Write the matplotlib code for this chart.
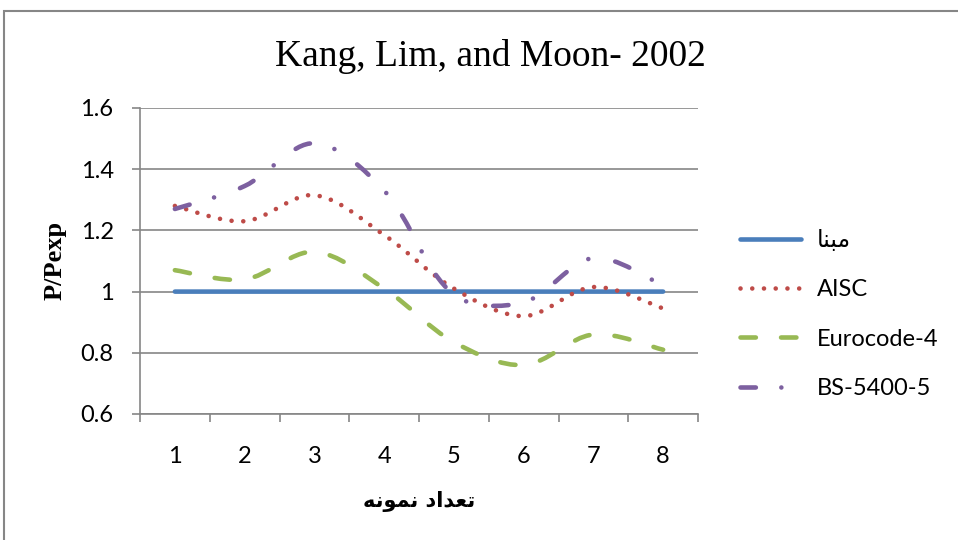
import matplotlib
matplotlib.use('Agg')
import matplotlib.pyplot as plt
from matplotlib.path import Path
from matplotlib.patches import PathPatch, Rectangle
from matplotlib.lines import Line2D
import numpy as np

# data
samples = [1, 2, 3, 4, 5, 6, 7, 8]
mabna = [1.0, 1.0, 1.0, 1.0, 1.0, 1.0, 1.0, 1.0]
aisc = [1.28, 1.23, 1.315, 1.185, 1.01, 0.92, 1.015, 0.945]
eurocode = [1.07, 1.04, 1.13, 1.01, 0.835, 0.76, 0.86, 0.81]
bs = [1.27, 1.345, 1.485, 1.33, 0.99, 0.965, 1.11, 1.02]

# arabic text, shaped by hand (presentation forms, visual order)
lbl_mabna = '\ufe8e\ufee8\ufe92\ufee3'                 # مبنا
lbl_x = '\ufeea\ufee7\ufeee\ufee4\ufee7 \ufea9\ufe8d\ufeaa\ufecc\ufe97'  # تعداد نمونه

title = 'Kang, Lim, and Moon- 2002'
ylabel = 'P/Pexp'

c_blue = '#4A7EBB'
c_red = '#BE4B48'
c_green = '#98B954'
c_purple = '#7D60A0'
lw = 3.3

def smooth_path(x, y, sx=70.0, sy=306.0):
    # excel-like smoothed line: bezier, tangents weighted by chord length on screen
    x = np.asarray(x, float); y = np.asarray(y, float)
    n = len(x)
    d = np.hypot(np.diff(x) * sx, np.diff(y) * sy)
    out_c, in_c = [], []
    for i in range(n):
        i0 = max(i - 1, 0); i1 = min(i + 1, n - 1)
        tx, ty = x[i1] - x[i0], y[i1] - y[i0]
        if 0 < i < n - 1:
            fa = d[i] / (d[i - 1] + d[i]) / 3
            fb = d[i - 1] / (d[i - 1] + d[i]) / 3
        else:
            fa = fb = 1 / 6
        out_c.append((x[i] + tx * fa, y[i] + ty * fa))
        in_c.append((x[i] - tx * fb, y[i] - ty * fb))
    verts = [(x[0], y[0])]
    codes = [Path.MOVETO]
    for i in range(n - 1):
        verts += [out_c[i], in_c[i + 1], (x[i + 1], y[i + 1])]
        codes += [Path.CURVE4] * 3
    return Path(verts, codes)

styles = [
    (mabna, c_blue, '-', lbl_mabna),
    (aisc, c_red, (0, (0.01, 2.55)), 'AISC'),
    (eurocode, c_green, (0, (3.35, 5.5)), 'Eurocode-4'),
    (bs, c_purple, (0, (3.35, 5.56, 0.01, 6.0)), 'BS-5400-5'),
]

fig = plt.figure(figsize=(9.58, 5.4), dpi=100)
ax = fig.add_axes([140/958, 1 - 414/540, 558/958, 306/540])

handles = []
for vals, col, ls, lab in styles:
    p = PathPatch(smooth_path(samples, vals), fill=False, edgecolor=col,
                  linewidth=lw, linestyle=ls, capstyle='round', joinstyle='round', zorder=3)
    ax.add_patch(p)
    handles.append(Line2D([], [], color=col, lw=lw, linestyle=ls,
                          solid_capstyle='round', dash_capstyle='round'))

ax.set_xlim(0.5, 8.5)
ax.set_ylim(0.6, 1.6)
ax.set_yticks([0.6, 0.8, 1.0, 1.2, 1.4, 1.6])
ax.set_yticklabels(['0.6', '0.8', '1', '1.2', '1.4', '1.6'])
ax.set_xticks(samples)
ax.set_xticks(np.arange(0.5, 9, 1), minor=True)
ax.grid(axis='y', color='#868686', linewidth=1.2)
ax.set_axisbelow(True)
for s in ['top', 'right']:
    ax.spines[s].set_visible(False)
for s in ['left', 'bottom']:
    ax.spines[s].set_color('#868686')
    ax.spines[s].set_linewidth(1.2)
ax.tick_params(axis='x', which='major', length=0, pad=23, labelsize=17)
ax.tick_params(axis='x', which='minor', length=6, width=1.2, color='#868686')
ax.tick_params(axis='y', length=6, width=1.2, color='#868686', pad=13, labelsize=17)
for t in ax.get_xticklabels() + ax.get_yticklabels():
    t.set_family(['Lato', 'DejaVu Sans'])

fig.text(490/958, 1 - 57/540, title, ha='center', va='center',
         family='Liberation Serif', fontsize=27)
fig.text(55/958, 1 - 260/540, ylabel, ha='center', va='center', rotation=90,
         family='Liberation Serif', fontweight='bold', fontsize=19)
fig.text(419/958, 1 - 502/540, lbl_x, ha='center', va='center',
         family='DejaVu Sans', fontweight='bold', fontsize=15)

leg = fig.legend(handles, [s[3] for s in styles], loc='center left',
                 bbox_to_anchor=(740/958, 1 - 314/540), frameon=False,
                 handlelength=2.6, handletextpad=0.65, labelspacing=1.2,
                 borderpad=0, borderaxespad=0,
                 prop={'family': ['Lato', 'DejaVu Sans'], 'size': 17})

# outer chart border
fig.patches.append(Rectangle((4/958, -0.2), 1.2, 1.2 - 11/540, transform=fig.transFigure,
                             fill=False, edgecolor='#868686', linewidth=1.5))

fig.savefig('out.png', dpi=100)
